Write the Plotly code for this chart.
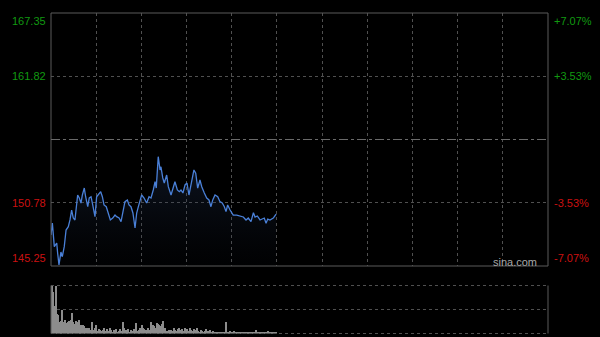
import numpy as np
import plotly.graph_objects as go

# ---- data ----
prev_close = 156.30
price_ticks = [167.35, 161.82, 150.78, 145.25]
pct_ticks = ["+7.07%", "+3.53%", "-3.53%", "-7.07%"]

minutes = [0, 0.9, 2.2, 3.8, 4.4, 5.3, 6.6, 7.5, 8.8, 10.0, 11.5, 12.6, 13.7, 14.8, 15.9,
           17.7, 18.8, 19.9, 20.8, 22.1, 23.0, 24.4, 25.4, 26.6, 27.7, 29.2, 30.3, 31.9,
           33.0, 34.1, 35.2, 36.7, 38.0, 39.4, 41.0, 42.5, 43.6, 45.2, 46.5, 48.0, 49.1,
           50.7, 51.8, 53.1, 54.4, 55.8, 56.9, 58.0, 59.1, 60.2, 61.8, 63.5, 65.1, 66.4,
           67.9, 69.1, 69.9, 71.2, 72.4, 73.0, 74.2, 75.2, 76.8, 77.9, 79.7, 81.2, 82.3,
           83.9, 85.2, 86.3, 87.6, 89.0, 90.3, 91.6, 93.4, 94.9, 96.1, 97.4, 98.9, 100.1,
           101.8, 103.4, 104.9, 106.2, 107.4, 108.9, 110.7, 112.2, 113.7, 115.1, 116.2,
           117.3, 118.9, 120.0, 121.0, 123.3, 125.5, 127.7, 129.5, 131.0, 132.8, 134.4,
           135.5, 137.0, 138.8, 140.3, 141.6, 142.8, 143.9, 145.4, 147.6, 149.0, 149.5]
prices = [147.96, 149.01, 146.94, 147.26, 146.39, 145.34, 146.47, 146.06, 146.94, 148.39,
          148.68, 149.27, 150.14, 149.44, 149.27, 151.45, 151.19, 150.75, 151.45, 152.06,
          151.30, 150.43, 151.19, 151.30, 150.58, 149.56, 151.30, 151.63, 151.74, 151.30,
          150.58, 150.43, 149.88, 149.27, 149.44, 149.70, 149.56, 149.44, 149.12, 149.99,
          150.87, 151.02, 150.58, 150.43, 149.88, 148.57, 149.88, 150.43, 150.87, 151.45,
          151.19, 150.75, 151.30, 151.19, 151.89, 152.61, 152.06, 154.80, 153.64, 153.92,
          152.94, 152.50, 153.20, 152.18, 151.45, 152.18, 152.61, 151.89, 151.74, 151.89,
          151.63, 152.33, 152.50, 151.45, 152.61, 153.64, 153.35, 152.06, 152.76, 152.18,
          151.63, 151.19, 151.02, 150.43, 151.02, 151.45, 151.30, 150.87, 150.75, 150.43,
          150.00, 150.58, 150.14, 149.88, 149.70, 149.70, 149.62, 149.53, 149.27, 149.44,
          149.12, 149.91, 149.53, 149.62, 149.27, 149.35, 149.44, 148.99, 149.35, 149.27,
          149.44, 149.70, 149.79]

volumes = [100, 87, 58, 99, 42, 40, 26, 28, 51, 26, 30, 23, 26, 28, 30, 44, 25, 21, 28, 26,
           30, 19, 18, 18, 16, 13, 13, 11, 12, 9, 25, 9, 12, 18, 6, 11, 9, 6, 9, 12, 6, 11,
           6, 13, 9, 5, 9, 6, 11, 5, 6, 11, 6, 26, 12, 9, 6, 11, 5, 9, 6, 11, 5, 23, 6, 9,
           13, 18, 12, 11, 9, 6, 12, 9, 26, 18, 16, 12, 23, 21, 19, 16, 21, 28, 12, 5, 6, 9,
           6, 9, 6, 12, 9, 6, 11, 13, 9, 11, 6, 13, 9, 11, 6, 12, 9, 6, 11, 9, 13, 6, 5, 9,
           6, 5, 6, 11, 6, 5, 9, 5, 6, 5, 4, 5, 4, 5, 4, 5, 4, 5, 25, 5, 4, 6, 5, 4, 6, 4,
           3, 3, 3, 3, 4, 3, 4, 3, 4, 3, 4, 5, 3, 4, 9, 3, 3, 4, 3, 3, 4, 3, 3, 6, 3, 3, 3,
           3, 3, 4]
session_minutes = 330

# ---- layout geometry ----
W, H = 600, 337
x0, x1 = 51 / W, 548 / W
main_dom = [1 - 266 / H, 1 - 13 / H]
vol_dom = [1 - 333.5 / H, 1 - 285.5 / H]

vol_x = np.linspace(0.5, minutes[-1], len(volumes))

fig = go.Figure()
fig.add_trace(go.Scatter(
    x=minutes, y=prices, mode="lines",
    line=dict(color="#4a80d8", width=1.3),
    fill="tozeroy",
    fillgradient=dict(type="vertical", start=price_ticks[-1], stop=max(prices),
                      colorscale=[[0, "rgba(20,30,50,0.05)"], [1, "rgba(40,60,100,0.35)"]]),
    hoverinfo="skip", xaxis="x", yaxis="y"))
fig.add_trace(go.Bar(
    x=vol_x, y=volumes, marker=dict(color="#8c8c8c", line=dict(width=0)),
    width=0.7, hoverinfo="skip", xaxis="x2", yaxis="y2"))

grid_col = "#505050"
fig.update_layout(
    width=W, height=H, autosize=False,
    margin=dict(l=0, r=0, t=0, b=0),
    paper_bgcolor="#000000", plot_bgcolor="#000000",
    showlegend=False, bargap=0,
    xaxis=dict(domain=[x0, x1], range=[0, session_minutes],
               tickvals=list(range(30, session_minutes, 30)),
               showticklabels=False, ticks="", showgrid=True,
               gridcolor=grid_col, griddash="dot", gridwidth=1, zeroline=False),
    yaxis=dict(domain=main_dom, range=[price_ticks[-1], price_ticks[0]],
               tickvals=[price_ticks[1], price_ticks[2]],
               showticklabels=False, ticks="", showgrid=True,
               gridcolor=grid_col, griddash="dot", gridwidth=1, zeroline=False),
    xaxis2=dict(domain=[x0, x1], range=[0, session_minutes], anchor="y2",
                showticklabels=False, ticks="", showgrid=False, zeroline=False),
    yaxis2=dict(domain=vol_dom, range=[0, max(volumes)], anchor="x2",
                tickvals=[max(volumes) / 2],
                showticklabels=False, ticks="", showgrid=True,
                gridcolor=grid_col, griddash="dot", gridwidth=1, zeroline=False),
)

shapes = [
    # main frame
    dict(type="rect", xref="x domain", yref="y domain", x0=0, x1=1, y0=0, y1=1,
         line=dict(color="#5a5a5a", width=1), layer="above"),
    # previous close line
    dict(type="line", xref="x domain", yref="y", x0=0, x1=1, y0=prev_close, y1=prev_close,
         line=dict(color="#6a6a6a", width=1, dash="dashdot")),
    # volume panel borders
    dict(type="line", xref="x2 domain", yref="y2 domain", x0=0, x1=0, y0=0, y1=1,
         line=dict(color="#5a5a5a", width=1)),
    dict(type="line", xref="x2 domain", yref="y2 domain", x0=1, x1=1, y0=0, y1=1,
         line=dict(color="#5a5a5a", width=1)),
    dict(type="line", xref="x2 domain", yref="y2 domain", x0=0, x1=1, y0=0, y1=0,
         line=dict(color=grid_col, width=1, dash="dot")),
    dict(type="line", xref="x2 domain", yref="y2 domain", x0=0, x1=1, y0=1, y1=1,
         line=dict(color=grid_col, width=1, dash="dot")),
]
fig.update_layout(shapes=shapes)

font_fam = "Liberation Sans, Arial, sans-serif"
colors = ["#119911", "#119911", "#cc1111", "#cc1111"]
anchors = ["top", "middle", "middle", "bottom"]
ann = []
for p, pct, c, a in zip(price_ticks, pct_ticks, colors, anchors):
    ann.append(dict(xref="paper", yref="y", x=48 / W, y=p, text=f"{p:.2f}",
                    showarrow=False, xanchor="right", yanchor=a,
                    font=dict(family=font_fam, size=11, color=c)))
    ann.append(dict(xref="paper", yref="y", x=552 / W, y=p, text=pct,
                    showarrow=False, xanchor="left", yanchor=a,
                    font=dict(family=font_fam, size=11, color=c)))
ann.append(dict(xref="paper", yref="paper", x=539 / W, y=1 - 262 / H, text="sina.com",
                showarrow=False, xanchor="right", yanchor="middle",
                font=dict(family=font_fam, size=11, color="#a8a8a8")))
fig.update_layout(annotations=ann)

fig.write_html("out.html")
